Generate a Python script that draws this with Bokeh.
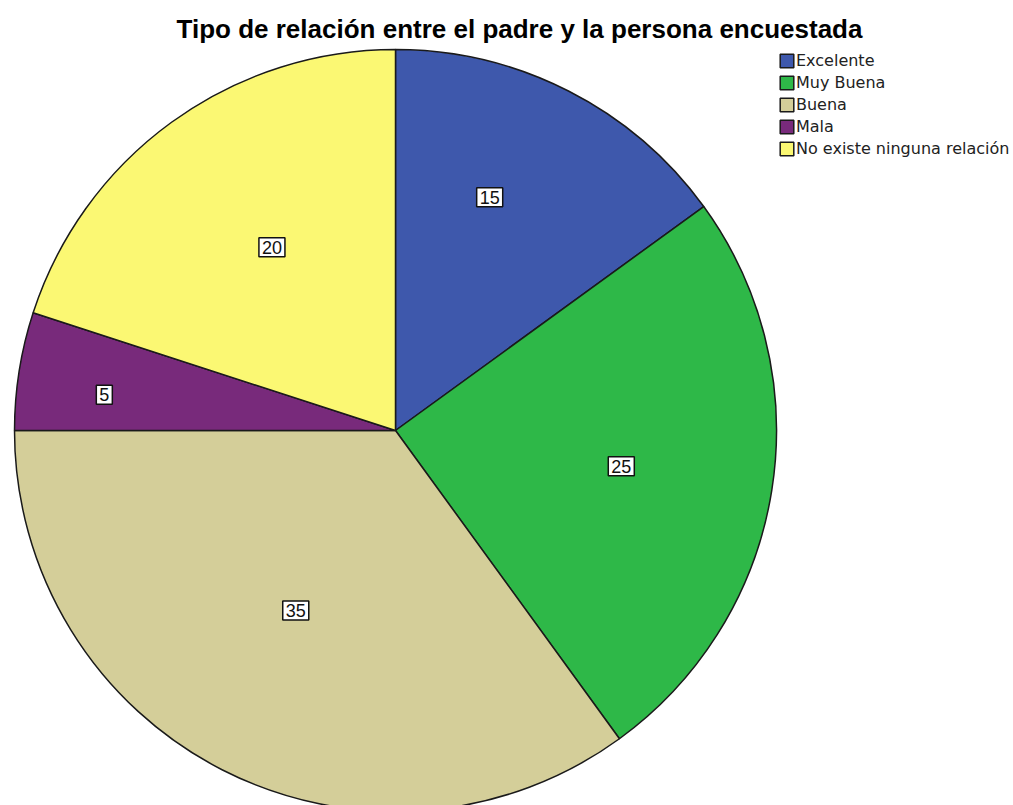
import math
from bokeh.plotting import figure
from bokeh.models import Range1d, ColumnDataSource, Legend, LegendItem
from bokeh.core.properties import value
from bokeh.embed import file_html
from bokeh.resources import INLINE

title_text = "Tipo de relación entre el padre y la persona encuestada"
categories = ["Excelente", "Muy Buena", "Buena", "Mala", "No existe ninguna relación"]
counts = [15, 25, 35, 5, 20]
colors = ["#3E58AC", "#2EB848", "#D4CE99", "#782A7B", "#FBF873"]

# layout (screen pixel coordinates; y measured from top of picture)
W, H = 1013, 805
cx, cy, R = 395, 430, 381
label_frac = [0.66, 0.60, 0.54, 0.77, 0.58]
label_dang = [5, 0, -2, 2, -2]  # degrees

p = figure(width=W, height=H, output_backend="svg", toolbar_location=None,
           x_range=Range1d(0, W), y_range=Range1d(0, H),
           min_border=0, outline_line_color=None)
p.axis.visible = False
p.grid.visible = False
p.background_fill_color = "white"
p.border_fill_color = "white"

total = sum(counts)
starts, ends, mids = [], [], []
cum = 0
for c in counts:
    a0 = math.pi / 2 - 2 * math.pi * cum / total
    cum += c
    a1 = math.pi / 2 - 2 * math.pi * cum / total
    starts.append(a0)
    ends.append(a1)
    mids.append((a0 + a1) / 2)

src = ColumnDataSource(dict(start=starts, end=ends, color=colors, cat=categories,
                            x=[cx] * 5, y=[H - cy] * 5))
r = p.wedge(x="x", y="y", radius=R, start_angle="start", end_angle="end",
            direction="clock", fill_color="color", line_color="#1a1a1a",
            line_width=1.5, source=src)

lx, ly = [], []
for m, f, d in zip(mids, label_frac, label_dang):
    a = m + math.radians(d)
    lx.append(cx + R * f * math.cos(a))
    ly.append(H - cy + R * f * math.sin(a))
p.text(x=lx, y=ly, text=[str(c) for c in counts], text_align="center",
       text_baseline="middle", text_font=value("Liberation Sans"),
       text_font_size="18px", text_color="#111111",
       background_fill_color="white", border_line_color="#111111",
       border_line_width=1.5, padding=3)

p.text(x=[519], y=[H - 28], text=[title_text], text_align="center",
       text_baseline="middle", text_font=value("Liberation Sans"),
       text_font_size="26px", text_font_style="bold", text_color="black")

legend = Legend(items=[LegendItem(label=cat, renderers=[r], index=i)
                       for i, cat in enumerate(categories)],
                location=(778, H - 158), glyph_width=17, glyph_height=17,
                label_height=17, spacing=3, padding=0, margin=0,
                label_standoff=1, label_text_font="DejaVu Sans",
                label_text_font_size="16px", label_text_color="#222222",
                border_line_color=None, background_fill_alpha=0)
p.add_layout(legend, "center")

open("out.html", "w").write(file_html(p, INLINE))
